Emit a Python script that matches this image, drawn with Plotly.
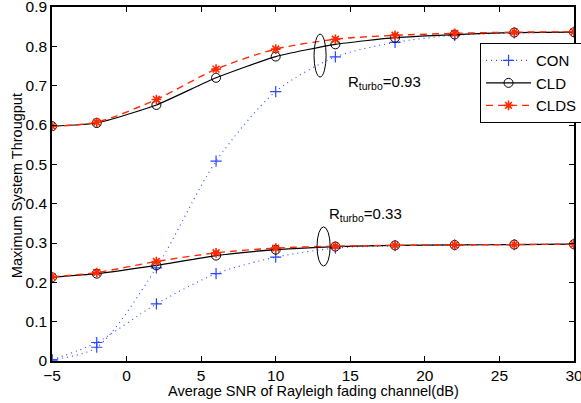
import plotly.graph_objects as go

snr = [-5, -2, 2, 6, 10, 14, 18, 22, 26, 30]

con_093 = [0.003, 0.035, 0.237, 0.508, 0.685, 0.773, 0.810, 0.828, 0.834, 0.836]
cld_093 = [0.597, 0.605, 0.651, 0.720, 0.774, 0.805, 0.822, 0.830, 0.835, 0.836]
clds_093 = [0.597, 0.607, 0.665, 0.742, 0.793, 0.818, 0.828, 0.833, 0.836, 0.837]

con_033 = [0.003, 0.047, 0.145, 0.222, 0.264, 0.287, 0.293, 0.295, 0.296, 0.297]
cld_033 = [0.213, 0.222, 0.243, 0.268, 0.283, 0.291, 0.294, 0.295, 0.296, 0.297]
clds_033 = [0.214, 0.225, 0.253, 0.275, 0.287, 0.292, 0.294, 0.295, 0.296, 0.297]

x_ticks = [-5, 0, 5, 10, 15, 20, 25, 30]
y_ticks = [0, 0.1, 0.2, 0.3, 0.4, 0.5, 0.6, 0.7, 0.8, 0.9]

labels = ["R<sub>turbo</sub>=0.93", "R<sub>turbo</sub>=0.33"]
x_title = "Average SNR of Rayleigh fading channel(dB)"
y_title = "Maximum System Througput"

FONT = "Liberation Sans, Arial, Helvetica, sans-serif"
BLUE = "rgb(40,70,255)"
RED = "rgb(255,40,0)"

fig = go.Figure()

def add_set(con, cld, clds, show):
    fig.add_trace(go.Scatter(
        x=snr, y=con, name="CON", legendgroup="CON", showlegend=show,
        mode="lines+markers",
        line=dict(color=BLUE, width=1.1, dash="1px,4px", shape="spline", smoothing=0.8),
        marker=dict(symbol="cross-thin-open", size=8, color=BLUE, line=dict(color=BLUE, width=1.2)),
    ))
    fig.add_trace(go.Scatter(
        x=snr, y=cld, name="CLD", legendgroup="CLD", showlegend=show,
        mode="lines+markers",
        line=dict(color="black", width=1.2, shape="spline", smoothing=0.5),
        marker=dict(symbol="circle-open", size=9, color="black", line=dict(color="black", width=1)),
    ))
    fig.add_trace(go.Scatter(
        x=snr, y=clds, name="CLDS", legendgroup="CLDS", showlegend=show,
        mode="lines+markers",
        line=dict(color=RED, width=1.4, dash="7px,5px", shape="spline", smoothing=0.8),
        marker=dict(symbol="asterisk-open", size=8, color=RED, line=dict(color=RED, width=1.6)),
    ))

add_set(con_093, cld_093, clds_093, True)
add_set(con_033, cld_033, clds_033, False)

# ellipses marking each code-rate group
fig.add_shape(type="circle", xref="x", yref="y", x0=12.57, x1=13.38, y0=0.722, y1=0.831,
              line=dict(color="black", width=1))
fig.add_shape(type="circle", xref="x", yref="y", x0=12.77, x1=13.65, y0=0.2415, y1=0.341,
              line=dict(color="black", width=1))

fig.add_annotation(x=14.72, y=0.707, xref="x", yref="y", text=labels[0], showarrow=False,
                   xanchor="left", yanchor="middle", font=dict(family=FONT, size=15, color="black"))
fig.add_annotation(x=13.44, y=0.372, xref="x", yref="y", text=labels[1], showarrow=False,
                   xanchor="left", yanchor="middle", font=dict(family=FONT, size=15, color="black"))

# axis titles
fig.add_annotation(x=0.5, y=-0.0847, xref="paper", yref="paper", text=x_title, showarrow=False,
                   xanchor="center", yanchor="middle", font=dict(family=FONT, size=14.5, color="black"))
fig.add_annotation(x=-0.067, y=0.494, xref="paper", yref="paper", text=y_title, showarrow=False,
                   textangle=-90, xanchor="center", yanchor="middle",
                   font=dict(family=FONT, size=14.5, color="black"))

axis_common = dict(
    showgrid=False, zeroline=False, showline=True, linecolor="black", linewidth=1.5,
    mirror="ticks", ticks="inside", ticklen=5, tickcolor="black", tickwidth=1,
    automargin=False, ticklabeloverflow="allow",
    tickfont=dict(family=FONT, size=15.5, color="black"),
)

fig.update_xaxes(range=[-5, 30], tickvals=x_ticks, ticktext=[str(v).replace("-", "\u2212") for v in x_ticks],
                 **axis_common)
fig.update_yaxes(range=[0, 0.9], tickvals=y_ticks, ticktext=["0"] + [f"{v:.1f}" for v in y_ticks[1:]],
                 **axis_common)

fig.update_layout(
    width=581, height=403,
    margin=dict(l=52, r=7, t=7, b=42, autoexpand=False),
    paper_bgcolor="white", plot_bgcolor="white",
    font=dict(family=FONT, size=15, color="black"),
    legend=dict(x=0.82, y=0.898, xanchor="left", yanchor="top",
                bgcolor="white", bordercolor="black", borderwidth=1,
                font=dict(family=FONT, size=15, color="black"),
                itemwidth=45, tracegroupgap=0),
)

fig.write_html("out.html", config={"displayModeBar": False},
               post_script="document.body.style.margin='0';document.body.style.padding='0';")
